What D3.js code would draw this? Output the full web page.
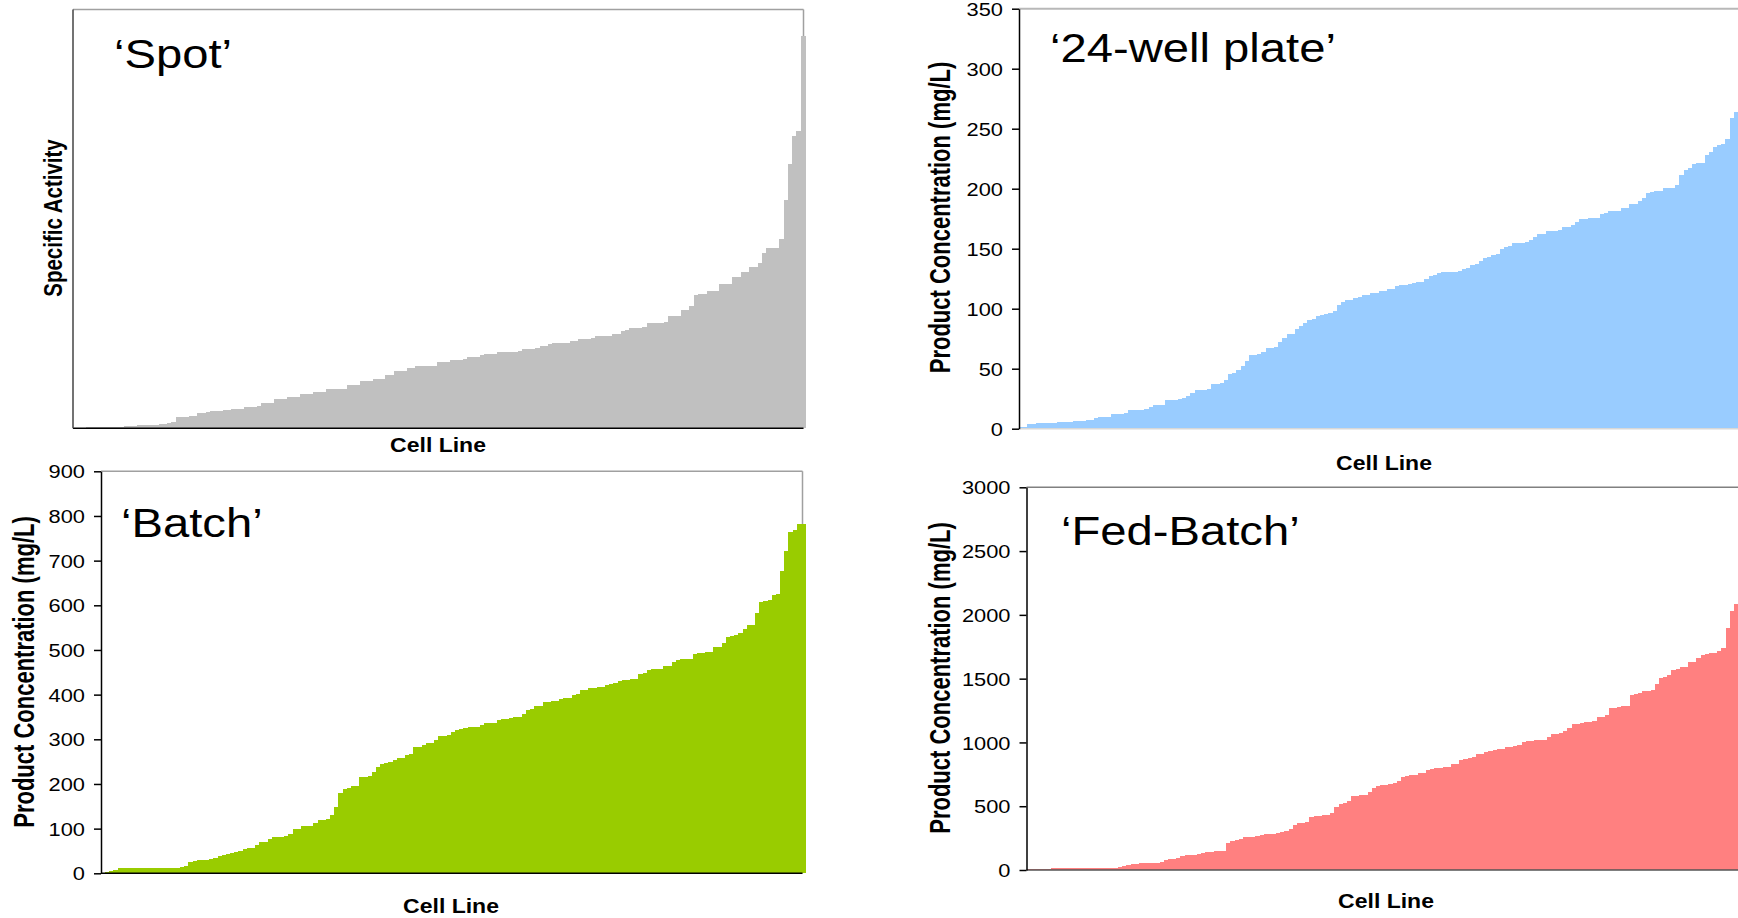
<!DOCTYPE html>
<html>
<head>
<meta charset="utf-8">
<script src="https://cdn.jsdelivr.net/npm/d3@7"></script>
<style>
  body { margin: 0; background: #ffffff; }
  svg { display: block; }
  text { font-family: "Liberation Sans", Arial, Helvetica, sans-serif; fill: #000; }
</style>
</head>
<body>
<svg id="chart" width="1738" height="918"></svg>
<script>
// ---------------- DATA ----------------
const panelTitles = ["\u2018Spot\u2019", "\u201824-well plate\u2019", "\u2018Batch\u2019", "\u2018Fed-Batch\u2019"];
const xAxisLabel = "Cell Line";
const spotYLabel = "Specific Activity";
const concYLabel = "Product Concentration (mg/L)";

const wellTicks = [0, 50, 100, 150, 200, 250, 300, 350];
const batchTicks = [0, 100, 200, 300, 400, 500, 600, 700, 800, 900];
const fedTicks = [0, 500, 1000, 1500, 2000, 2500, 3000];

// 'Spot' specific activity (arbitrary units, sorted)
const spotValues = [
  0.3, 0.5, 0.7, 0.9, 1.0, 1.2, 1.3, 1.4, 1.5, 1.6, 1.7, 1.8, 1.9, 2.0, 2.8, 3.0, 3.2, 3.4, 3.6, 3.8, 4.0, 4.3, 5.7, 6.7,
  11.0, 11.0, 11.3, 12.3, 12.3, 15.5, 15.7, 15.9, 17.0, 17.3, 17.7, 18.0, 18.0, 19.7, 19.7, 19.7, 21.5, 21.7, 21.7, 22.0,
  25.7, 25.7, 25.7, 29.0, 29.0, 29.0, 31.7, 31.7, 31.7, 34.0, 34.0, 34.0, 36.3, 36.3, 36.3, 39.5, 39.7, 39.7, 39.7, 39.9,
  43.3, 43.3, 43.3, 47.3, 47.3, 47.3, 49.3, 49.3, 49.3, 53.3, 53.3, 57.3, 57.3, 57.3, 60.0, 60.0, 62.0, 62.3, 62.3, 62.3, 62.5,
  66.5, 66.7, 66.9, 68.0, 68.3, 68.5, 70.0, 71.5, 71.7, 71.9, 74.0, 74.3, 74.3, 74.5, 76.2, 76.5, 76.7, 76.7, 76.9, 77.2,
  79.8, 80.0, 80.0, 80.3, 82.5, 82.8, 85.0, 85.2, 85.3, 85.4, 85.6, 87.5, 87.8, 89.8, 90.0, 90.0, 90.2, 92.5, 92.7, 92.7, 92.9,
  95.0, 95.0, 98.0, 98.5, 100.7, 101.0, 101.0, 101.3, 105.7, 105.9, 106.0, 106.1, 106.3, 112.5, 112.7, 112.9, 118.3, 118.3,
  122.7, 134.0, 134.3, 134.6, 137.5, 137.7, 137.9, 144.8, 145.0, 145.2, 151.5, 151.9, 157.0, 157.0, 161.5, 161.9, 166.0,
  175.7, 180.8, 181.0, 181.2, 190.3, 229.0, 265.3, 292.7, 297.7, 393.3
];

// '24-well plate' product concentration (mg/L)
const wellValues = [
  1.2, 1.8, 4.2, 4.3, 4.4, 4.4, 4.5, 4.6, 4.7, 5.6, 5.7, 5.9, 6.0, 6.1, 6.2, 6.4, 7.0, 7.3, 9.2, 9.5, 9.8, 10.0,
  12.0, 12.3, 12.6, 12.8, 15.8, 15.9, 16.0, 16.0, 16.1, 17.8, 19.4, 19.7, 20.0, 23.6, 23.9, 24.2, 24.4, 26.0, 27.0,
  29.4, 32.0, 32.3, 32.5, 32.8, 37.2, 37.6, 38.0, 41.0, 45.5, 46.7, 49.0, 52.5, 56.7, 61.4, 61.8, 62.2, 64.2, 67.2,
  67.5, 67.8, 72.0, 75.6, 78.6, 79.2, 83.3, 85.3, 87.8, 90.8, 91.4, 94.2, 94.6, 95.8, 96.4, 98.3, 102.8, 105.6,
  107.0, 107.4, 109.2, 109.6, 111.2, 111.6,
  112.8, 112.9, 114.5, 114.8, 116.5, 116.8, 119.2, 119.6, 119.8, 121.0, 121.2, 122.4, 122.6, 124.4, 127.6, 128.0,
  130.0, 130.2, 130.3, 130.5, 131.0, 131.2, 133.0, 133.6, 136.6, 137.2, 139.7, 142.5, 143.0, 145.0, 145.5, 149.7,
  151.5, 151.9, 154.8, 155.0, 155.0, 155.2, 157.5, 160.0, 162.0, 162.4, 164.8, 165.0, 165.0, 165.3, 168.0, 168.5,
  169.7, 171.9, 174.5, 174.8, 175.2, 175.3, 175.4, 179.0, 179.4, 181.2, 181.4, 181.6, 183.6, 184.2, 187.0, 187.5,
  190.0, 192.5, 196.4, 197.0, 198.2, 198.5, 200.6, 200.8, 201.0, 203.0, 211.4, 215.6, 217.0, 221.0, 221.1, 221.3,
  228.0, 230.8, 234.4, 236.6, 237.2, 241.1, 258.6, 264.2
];

// 'Batch' product concentration (mg/L)
const batchValues = [
  1.5, 3, 5.5, 8, 11.0, 11.2, 11.4, 11.5, 11.6, 11.7, 11.8, 11.9, 12.0, 12.1, 12.2, 12.3, 12.4, 12.6, 12.8, 13.0,
  17, 26, 28.5, 29.2, 29.8, 30.6, 33, 34, 39, 40, 43.5, 44.5, 48.5, 49.5, 55, 56, 57, 64, 69.5, 70.5,
  76, 81, 81.5, 82, 83, 88, 98.5, 99.5, 105.5, 106.5, 107, 112, 118.5, 120, 121, 130.5, 149, 179, 189, 190.5,
  195.5, 196.5, 214.5, 215.5, 218.5, 226, 238.6, 245.5, 246.5, 250, 253.5, 257.5, 258.5, 265.5, 266.5, 282.5, 283.5, 287, 291.5, 292.5,
  298, 307.5, 308.5, 309.5,
  317, 321.5, 322.5, 325.5, 326.5, 327.5, 328, 332, 336.5, 337, 337.5, 344, 345, 346, 347, 350, 351, 356.5, 366.5, 367.5,
  374.5, 375.5, 383.5, 384.5, 385.5, 386.5, 390, 391.5, 393, 400, 401, 409.5, 410.5, 414.5, 415.5, 416.5, 417.5, 422, 423.5, 425,
  431, 432.5, 433.5, 434.5, 436, 446.5, 447.5, 455, 456.5, 457.5, 458.5, 463.5, 464.5, 473.5, 478, 479, 479.5, 480, 491.5, 492.5,
  494, 495, 496, 506.5, 507.5, 514.5, 529.5, 532, 534.5, 537, 548, 555, 556, 583, 608, 610, 611.5, 624, 626, 677,
  722, 764, 768, 781, 782
];

// 'Fed-Batch' product concentration (mg/L)
const fedBatchValues = [
  8, 9, 10, 10, 11, 11, 12, 12, 12, 13, 13, 13, 14, 14, 14, 15, 15, 15, 16, 16, 17, 18,
  22, 29, 37, 45, 48, 51, 53, 55, 56, 57, 65, 76, 83, 85, 94, 110, 117, 119, 121, 123, 131, 143, 145, 146, 148, 149,
  209, 228, 232, 243, 255, 258, 261, 269, 274, 281, 283, 285, 287, 298, 303, 319, 350, 366, 371, 376, 413, 423, 426,
  429, 431, 444, 491, 515, 523, 541, 582, 584, 586, 588, 614,
  640, 655, 663, 667, 678, 680, 698, 732, 739, 744, 746, 757, 759, 784, 789, 797, 801, 806, 810, 830,
  832, 862, 868, 875, 888, 908, 910, 927, 929, 941, 946, 951, 966, 968, 974, 976, 1006, 1009, 1011, 1018,
  1019, 1020, 1045, 1063, 1067, 1071, 1092, 1110, 1141, 1143, 1155, 1160, 1164, 1168, 1196, 1198, 1215, 1267, 1272, 1277,
  1282, 1286, 1372, 1378, 1385, 1403, 1407, 1411, 1455, 1502, 1510, 1529, 1568, 1576, 1593, 1595, 1632, 1634, 1659, 1685,
  1692, 1698, 1704, 1717, 1743, 1894, 2030, 2085
];

// ---------------- DRAWING ----------------
const svg = d3.select("#chart");
const STRETCH = 1.18; // the source image is horizontally stretched

function stretchedText(parent, x, y, str, size, weight, anchor, rotate, stretch) {
  const g = parent.append("g")
    .attr("transform", `translate(${x},${y}) scale(${stretch || STRETCH},1)` + (rotate ? " rotate(-90)" : ""));
  return g.append("text")
    .attr("x", 0).attr("y", 0)
    .attr("text-anchor", anchor)
    .attr("font-size", size)
    .attr("font-weight", weight)
    .text(str);
}

function panel(o) {
  const g = svg.append("g");
  const x = d3.scaleBand().domain(d3.range(o.values.length)).range([o.x0, o.x1]).paddingInner(0).paddingOuter(0);
  const y = d3.scaleLinear().domain(o.domain).range([o.yBot, o.yTop]);

  // plot frame (top & right border)
  const topX2 = o.frameRight < 1738 ? o.frameRight : 1760;
  g.append("line").attr("x1", o.x0).attr("x2", topX2).attr("y1", y(o.domain[1])).attr("y2", y(o.domain[1]))
    .attr("stroke", o.frameColor).attr("stroke-width", o.frameWidth);
  if (o.frameRight < 1738) {
    g.append("line").attr("x1", o.frameRight).attr("x2", o.frameRight).attr("y1", y(o.domain[1])).attr("y2", y(0))
      .attr("stroke", o.frameColor).attr("stroke-width", o.frameWidth);
  }

  // bars
  g.append("g").attr("shape-rendering", "crispEdges")
    .selectAll("rect").data(o.values).join("rect")
    .attr("x", (d, i) => x(i))
    .attr("y", d => y(d))
    .attr("width", x.bandwidth() + 0.6)
    .attr("height", d => y(0) - y(d))
    .attr("fill", o.color);

  // bottom line
  g.append("line").attr("x1", o.x0).attr("x2", Math.min(o.frameRight, 1738)).attr("y1", y(0)).attr("y2", y(0))
    .attr("stroke", o.bottomColor).attr("stroke-width", 1.5);

  // left axis
  if (o.ticks) {
    const ax = g.append("g").attr("transform", `translate(${o.x0},0)`)
      .call(d3.axisLeft(y).tickValues(o.ticks).tickSize(7).tickSizeOuter(0).tickFormat(d3.format("d")));
    ax.select(".domain").attr("stroke", "#000").attr("stroke-width", 1.5);
    ax.selectAll(".tick line").attr("stroke", "#000").attr("stroke-width", 1.5);
    ax.selectAll(".tick text")
      .attr("x", 0).attr("dy", "0.36em")
      .attr("transform", `translate(${-16},0) scale(${STRETCH},1)`)
      .attr("font-size", 18.5)
      .attr("font-family", "'Liberation Sans', Arial, sans-serif")
      .attr("fill", "#000");
  } else {
    g.append("line").attr("x1", o.x0).attr("x2", o.x0).attr("y1", y(o.domain[1])).attr("y2", y(0))
      .attr("stroke", "#444").attr("stroke-width", 1.5);
  }

  // texts
  stretchedText(g, o.titleX, o.titleY, o.title, 40, "normal", "start", false);
  stretchedText(g, o.xlabX, o.xlabY, xAxisLabel, 20, "bold", "middle", false, 1.15);
  stretchedText(g, o.ylabX, o.ylabY, o.ylab, o.ylabSize, "bold", "middle", true, 1.3).attr("dy", "0.35em");
}

panel({
  values: spotValues, domain: [0, 420], ticks: null,
  x0: 73, x1: 805, yTop: 9.5, yBot: 428.3, frameRight: 803.5,
  color: "#C0C0C0", frameColor: "#A0A0A0", frameWidth: 1.5, bottomColor: "#000",
  title: panelTitles[0], titleX: 114, titleY: 68,
  xlabX: 438, xlabY: 452, ylab: spotYLabel, ylabX: 52.5, ylabY: 218, ylabSize: 20.5
});

panel({
  values: wellValues, domain: [0, 350], ticks: wellTicks,
  x0: 1019, x1: 1738, yTop: 8.7, yBot: 428.7, frameRight: 1760,
  color: "#99CCFF", frameColor: "#B8B8B8", frameWidth: 2, bottomColor: "#D8D8D8",
  title: panelTitles[1], titleX: 1050, titleY: 62,
  xlabX: 1384, xlabY: 470, ylab: concYLabel, ylabX: 940, ylabY: 217.5, ylabSize: 22
});

panel({
  values: batchValues, domain: [0, 900], ticks: batchTicks,
  x0: 101, x1: 805, yTop: 471.3, yBot: 873.3, frameRight: 802.5,
  color: "#99CC00", frameColor: "#A0A0A0", frameWidth: 1.5, bottomColor: "#000",
  title: panelTitles[2], titleX: 121, titleY: 537,
  xlabX: 451, xlabY: 913, ylab: concYLabel, ylabX: 24, ylabY: 672, ylabSize: 22
});

panel({
  values: fedBatchValues, domain: [0, 3000], ticks: fedTicks,
  x0: 1026.5, x1: 1738, yTop: 487.3, yBot: 870, frameRight: 1760,
  color: "#FF8080", frameColor: "#808080", frameWidth: 1.5, bottomColor: "#555",
  title: panelTitles[3], titleX: 1061, titleY: 545,
  xlabX: 1386, xlabY: 908, ylab: concYLabel, ylabX: 940, ylabY: 678, ylabSize: 22
});
</script>
</body>
</html>
